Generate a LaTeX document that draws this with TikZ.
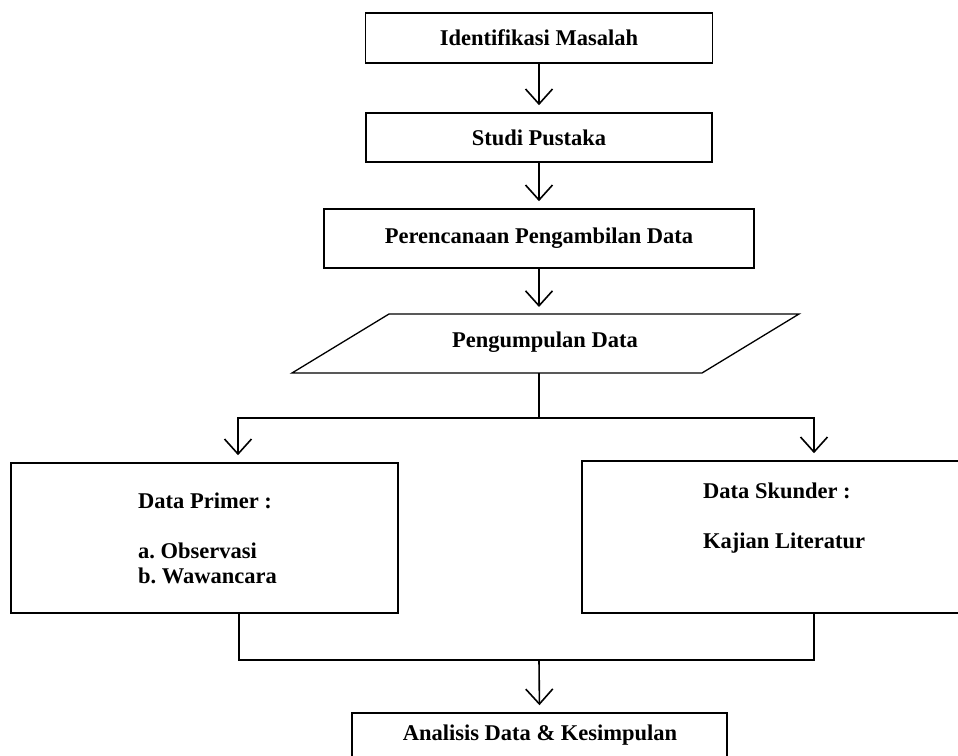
\documentclass[tikz,border=0pt]{standalone}
\usepackage{fontspec}
\setmainfont{Liberation Serif}
\usetikzlibrary{arrows.meta,calc}
\begin{document}
\frenchspacing
\begin{tikzpicture}[x=1pt,y=-1pt,
  every node/.style={font=\fontsize{22.5}{25}\selectfont\bfseries},
  box/.style={draw, line width=1.6pt, rectangle, inner sep=0pt},
  conn/.style={line width=1.6pt},
  arr/.style={conn, -{Straight Barb[length=15pt,width=27pt,line width=1.6pt]}, shorten >=7pt}]
\useasboundingbox (0,0) rectangle (958,755);
\begin{scope}
\clip (0,0) rectangle (958,755);
% main boxes
\node[box, minimum width=347pt, minimum height=50pt] (b1) at (539,38) {Identifikasi Masalah};
\node[box, minimum width=346pt, minimum height=49pt] (b2) at (539,137.5) {Studi Pustaka};
\node[box, minimum width=430pt, minimum height=59pt] (b3) at (539,238.5) {Perencanaan Pengambilan Data};
% parallelogram
\draw[line width=1.3pt] (389,314) -- (799,314) -- (702,373) -- (292,373) -- cycle;
\node (pg) at (545,342) {Pengumpulan Data};
\coordinate (pgtop) at (539,314);
\coordinate (pgbot) at (539,373);
\coordinate (split) at (539,418);
% side boxes
\node[box, minimum width=387pt, minimum height=150pt] (left) at (204.5,538) {};
\node[box, minimum width=383pt, minimum height=152pt] (right) at (773.5,537) {};
\node[anchor=west, align=left, inner sep=0pt] (lt) at (138,538.5) {Data Primer :\\[24.5pt]a. Observasi\\b. Wawancara};
\node[anchor=west, align=left, inner sep=0pt] (rt) at (703,518) {Data Skunder :\\[25pt]Kajian Literatur};
% bottom box
\node[box, minimum width=375pt, minimum height=57pt] (b4) at (539.5,741.5) {};
\node (b4t) at (540,735) {Analisis Data \& Kesimpulan};
\coordinate (merge) at (539,660);
% connectors
\draw[arr] (b1.south) -- (b2.north);
\draw[arr] (b2.south) -- (b3.north);
\draw[arr] (b3.south) -- (pgtop);
\draw[conn] (pgbot) -- (split);
\draw[arr] (split) -| ([xshift=33.5pt]left.north);
\draw[arr] (split) -| ([xshift=40.5pt]right.north);
\draw[conn] ([xshift=34.5pt]left.south) |- (merge) -| ([xshift=40.5pt]right.south);
\draw[arr] (merge) -- (b4.north);
\end{scope}
\end{tikzpicture}
\end{document}
